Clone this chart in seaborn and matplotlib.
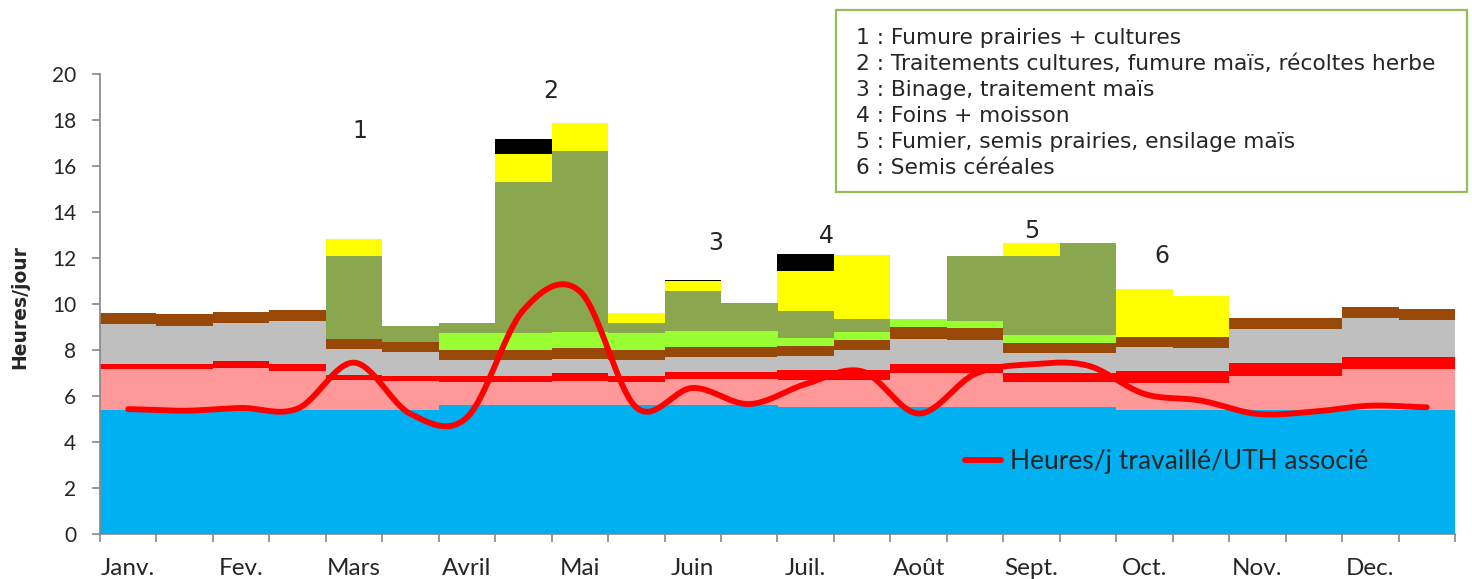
import numpy as np
import pandas as pd
import matplotlib
matplotlib.use("Agg")
import matplotlib.pyplot as plt
import seaborn as sns
from matplotlib.patches import Rectangle

# ---------------- data ----------------
months = ["Janv.", "Fev.", "Mars", "Avril", "Mai", "Juin",
          "Juil.", "Août", "Sept.", "Oct.", "Nov.", "Dec."]
periods = [f"{m} {h}" for m in months for h in (1, 2)]

blue   = [5.39, 5.39, 5.39, 5.39, 5.39, 5.39, 5.63, 5.63, 5.63, 5.63, 5.63, 5.63,
          5.51, 5.51, 5.51, 5.51, 5.51, 5.51, 5.39, 5.39, 5.39, 5.39, 5.39, 5.39]
pink   = [1.79, 1.79, 1.81, 1.71, 1.32, 1.28, 0.98, 0.98, 1.02, 0.98, 1.11, 1.11,
          1.19, 1.20, 1.47, 1.47, 1.08, 1.08, 1.16, 1.16, 1.46, 1.46, 1.78, 1.78]
red    = [0.23, 0.23, 0.34, 0.29, 0.22, 0.20, 0.24, 0.24, 0.33, 0.24, 0.29, 0.29,
          0.41, 0.41, 0.43, 0.41, 0.41, 0.41, 0.52, 0.52, 0.57, 0.57, 0.51, 0.51]
grey   = [1.73, 1.65, 1.63, 1.86, 1.12, 1.03, 0.72, 0.72, 0.63, 0.72, 0.65, 0.65,
          0.62, 0.86, 1.08, 1.04, 0.85, 0.85, 1.05, 1.00, 1.49, 1.49, 1.69, 1.62]
brown  = [0.47, 0.50, 0.50, 0.49, 0.45, 0.44, 0.44, 0.44, 0.46, 0.44, 0.46, 0.46,
          0.45, 0.47, 0.52, 0.51, 0.47, 0.47, 0.46, 0.48, 0.48, 0.48, 0.48, 0.47]
lgreen = [0, 0, 0, 0, 0, 0, 0.71, 0.71, 0.70, 0.71, 0.67, 0.67,
          0.35, 0.35, 0.34, 0.33, 0.35, 0.35, 0, 0, 0, 0, 0, 0]
olive  = [0, 0, 0, 0, 3.57, 0.70, 0.44, 6.57, 7.87, 0.45, 1.74, 1.22,
          1.18, 0.55, 0, 2.80, 3.42, 4.00, 0, 0, 0, 0, 0, 0]
yellow = [0, 0, 0, 0, 0.77, 0, 0, 1.23, 1.24, 0.44, 0.43, 0,
          1.74, 2.79, 0, 0, 0.58, 0, 2.09, 1.78, 0, 0, 0, 0]
black  = [0, 0, 0, 0, 0, 0, 0, 0.66, 0, 0, 0.05, 0,
          0.72, 0, 0, 0, 0, 0, 0, 0, 0, 0, 0, 0]

heures_uth = [5.43, 5.36, 5.48, 5.45, 7.45, 5.22, 5.07, 9.74, 10.55, 5.50, 6.35, 5.65,
              6.52, 7.07, 5.24, 6.96, 7.38, 7.32, 6.09, 5.80, 5.22, 5.32, 5.58, 5.51]
line_label = "Heures/j travaillé/UTH associé"

annot_labels = ["1", "2", "3", "4", "5", "6"]
annot_x = [4.10, 7.48, 10.40, 12.37, 16.01, 18.31]
annot_y = [17.53, 19.28, 12.67, 12.97, 13.19, 12.10]

legend_lines = [
    "1 : Fumure prairies + cultures",
    "2 : Traitements cultures, fumure maïs, récoltes herbe",
    "3 : Binage, traitement maïs",
    "4 : Foins + moisson",
    "5 : Fumier, semis prairies, ensilage maïs",
    "6 : Semis céréales",
]

# ---------------- style ----------------
sns.set_style("white")
plt.rcParams["font.family"] = ["DejaVu Sans"]

layers = [blue, pink, red, grey, brown, lgreen, olive, yellow, black]
colors = ["#00B0F0", "#FF9999", "#FF0000", "#BFBFBF", "#984807",
          "#99FF33", "#8AA64F", "#FFFF00", "#000000"]

W, H = 1472, 579
fig = plt.figure(figsize=(W / 100, H / 100), dpi=100)
ax = fig.add_axes([100 / W, 45 / H, 1355 / W, 460 / H])

df = pd.DataFrame({"period": periods})
cum = np.cumsum(np.array(layers, dtype=float), axis=0)
# draw cumulative totals from top layer down (overdraw stacking)
for k in range(len(layers) - 1, -1, -1):
    df["val"] = cum[k]
    sns.barplot(data=df, x="period", y="val", order=periods, color=colors[k],
                saturation=1, width=1.0, linewidth=0, errorbar=None, ax=ax)

# smoothed line (Excel-like Catmull-Rom smoothing through the data points)
p = np.array(heures_uth, dtype=float)
n = len(p)
m = np.zeros(n)
m[1:-1] = (p[2:] - p[:-2]) / 2
m[0] = (p[1] - p[0]) / 2
m[-1] = (p[-1] - p[-2]) / 2
xs, ys = [], []
t = np.linspace(0, 1, 30)
h00 = 2 * t**3 - 3 * t**2 + 1
h10 = t**3 - 2 * t**2 + t
h01 = -2 * t**3 + 3 * t**2
h11 = t**3 - t**2
for i in range(n - 1):
    xs.extend(i + t)
    ys.extend(h00 * p[i] + h10 * m[i] + h01 * p[i + 1] + h11 * m[i + 1])
ax.plot(xs, ys, color="#FF0000", lw=4.2, solid_capstyle="round", zorder=5,
        label=line_label)

# axes
ax.set_xlim(-0.5, 23.5)
ax.set_ylim(0, 20)
ax.set_xlabel("")
ax.set_ylabel("")
for s in ["top", "right"]:
    ax.spines[s].set_visible(False)
for s in ["left", "bottom"]:
    ax.spines[s].set_color("#868686")
    ax.spines[s].set_linewidth(1.2)

ax.set_xticks(np.arange(-0.5, 24, 1))
ax.set_xticklabels([])
ax.set_xticks(np.arange(0, 24, 2), minor=True)
ax.set_xticklabels(months, minor=True, fontfamily="Lato", fontsize=17.5)
ax.tick_params(axis="x", which="major", length=6, width=1.2, color="#868686",
               direction="out", bottom=True)
ax.tick_params(axis="x", which="minor", length=0, pad=17, bottom=True)
ax.set_yticks(np.arange(0, 21, 2))
ax.set_yticklabels([str(v) for v in range(0, 21, 2)], fontfamily="Lato", fontsize=15)
ax.tick_params(axis="y", length=6, width=1.2, color="#868686", direction="out",
               left=True, pad=11)

fig.text(20 / W, 1 - 307 / H, "Heures/jour", rotation=90, fontsize=13.5,
         fontweight="bold", ha="center", va="center")

# numbered annotations
for lab, x, y in zip(annot_labels, annot_x, annot_y):
    ax.text(x, y, lab, fontsize=17, ha="center", va="center", clip_on=False)

# line legend
ax.legend(loc="center left", bbox_to_anchor=((965 - 100) / 1355, (534 - 462) / 460),
          frameon=False, prop={"family": "Lato", "size": 19}, handlelength=1.35,
          handletextpad=0.35, borderpad=0, borderaxespad=0)

# text box with operations
fig.patches.append(Rectangle((836 / W, 1 - 192 / H), (1467 - 836) / W, 182 / H,
                             transform=fig.transFigure, fill=False,
                             ec="#9BBB59", lw=1.6))
for i, txt in enumerate(legend_lines):
    fig.text(856 / W, 1 - (38.5 + 25.8 * i) / H, txt, fontsize=15.7,
             ha="left", va="center")

fig.savefig("out.png", dpi=100)
